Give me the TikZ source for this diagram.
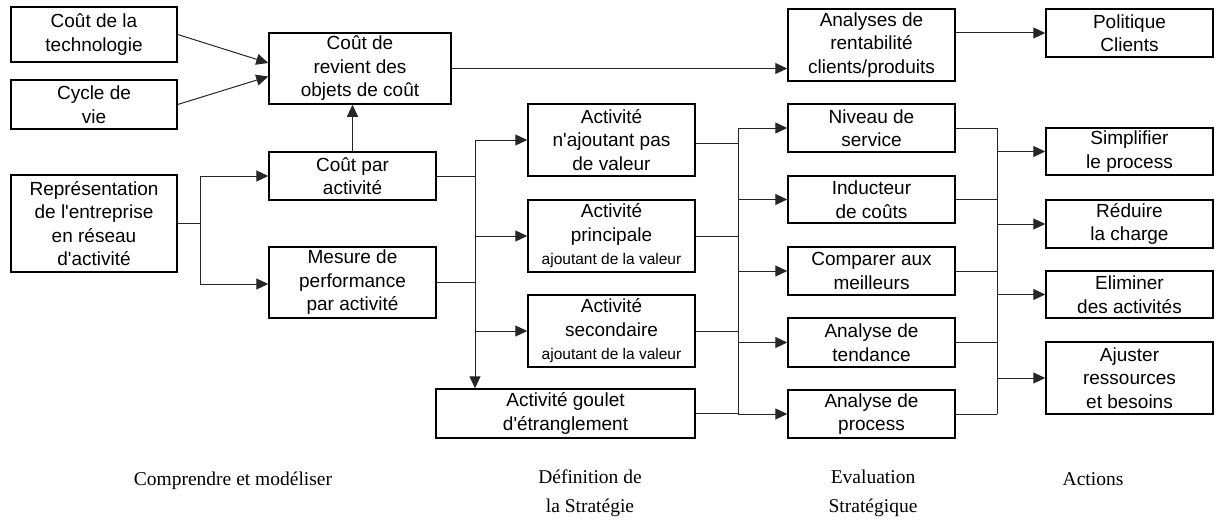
\documentclass[tikz,border=0pt]{standalone}
\usepackage{fontspec}
\setmainfont{Liberation Serif}
\setsansfont{Liberation Sans}[Ligatures=TeXOff]
\usetikzlibrary{arrows.meta}
\begin{document}
\begin{tikzpicture}[x=1pt,y=-1pt,
 box/.style={draw,line width=1.5pt,inner sep=0pt,align=center,font=\sffamily\fontsize{19}{23.5}\selectfont},
 conn/.style={line width=1pt,draw=black!85},
 arr/.style={conn,-{Triangle[length=12pt,width=11pt]}},
 lab/.style={font=\rmfamily\fontsize{19.5}{28.5}\selectfont,align=center,inner sep=0pt}]
\useasboundingbox (0,0) rectangle (1217,519);
% column 1
\node[box,minimum width=166pt,minimum height=55pt] (tech) at (94,34.5) {Coût de la\\technologie};
\node[box,minimum width=166pt,minimum height=49pt] (cycle) at (94,104.5) {Cycle de\\vie};
\node[box,minimum width=166pt,minimum height=97pt] (repr) at (94,223.5) {Représentation\\de l'entreprise\\en réseau\\d'activité};
% column 2
\node[box,minimum width=182pt,minimum height=71pt] (revient) at (360,68.5) {Coût de\\revient des\\objets de coût};
\node[box,minimum width=167pt,minimum height=48pt] (coutpar) at (352.5,176) {Coût par\\activité};
\node[box,minimum width=167pt,minimum height=71pt] (mesure) at (352.5,282.5) {Mesure de\\performance\\par activité};
% column 3
\node[box,minimum width=167pt,minimum height=72pt] (nva) at (611.5,140) {Activité\\n'ajoutant pas\\de valeur};
\node[box,minimum width=167pt,minimum height=72pt] (princ) at (611.5,236) {Activité\\principale\\{\fontsize{15.5}{18}\selectfont ajoutant de la valeur}};
\node[box,minimum width=167pt,minimum height=72pt] (second) at (611.5,331) {Activité\\secondaire\\{\fontsize{15.5}{18}\selectfont ajoutant de la valeur}};
\node[box,minimum width=259pt,minimum height=49pt] (goulet) at (565.5,413.5) {Activité goulet\\d'étranglement};
% column 4
\node[box,minimum width=167pt,minimum height=72pt] (analyses) at (871.5,45) {Analyses de\\rentabilité\\clients/produits};
\node[box,minimum width=167pt,minimum height=48pt] (niveau) at (871.5,128) {Niveau de\\service};
\node[box,minimum width=167pt,minimum height=47pt] (induct) at (871.5,199.5) {Inducteur\\de coûts};
\node[box,minimum width=167pt,minimum height=48pt] (compar) at (871.5,271) {Comparer aux\\meilleurs};
\node[box,minimum width=167pt,minimum height=49pt] (tendance) at (871.5,342.5) {Analyse de\\tendance};
\node[box,minimum width=167pt,minimum height=48pt] (process) at (871.5,414) {Analyse de\\process};
% column 5
\node[box,minimum width=167pt,minimum height=48pt] (politique) at (1129.5,33) {Politique\\Clients};
\node[box,minimum width=167pt,minimum height=47pt] (simpl) at (1129.5,151.5) {Simplifier\\le process};
\node[box,minimum width=167pt,minimum height=48pt] (reduire) at (1129.5,224) {Réduire\\la charge};
\node[box,minimum width=167pt,minimum height=47pt] (elim) at (1129.5,294.5) {Eliminer\\des activités};
\node[box,minimum width=167pt,minimum height=72pt] (ajust) at (1129.5,378) {Ajuster\\ressources\\et besoins};
% bottom labels
\node[lab,anchor=base] (l1) at (233,485) {Comprendre et modéliser};
\node[lab,anchor=north] (l2) at (590,470) {Définition de\\la Stratégie};
\node[lab,anchor=north] (l3) at (873,470) {Evaluation\\Stratégique};
\node[lab,anchor=base] (l4) at (1093,485) {Actions};
% connectors
\draw[arr] (tech.east) -- ([yshift=5.5pt]revient.west);
\draw[arr] (cycle.east) -- ([yshift=-8pt]revient.west);
\draw[arr] (coutpar.north) -- (coutpar.north |- revient.south);
\draw[arr] (revient.east) -- (revient.east -| analyses.west);
\draw[arr] (analyses.east |- politique.west) -- (politique.west);
\coordinate (j1) at (200,223.5);
\draw[conn] (repr.east) -- (j1);
\draw[arr] (j1) |- (coutpar.west);
\draw[arr] (j1) |- ([yshift=-1.5pt]mesure.west);
\coordinate (v2) at (475,176);
\draw[conn] (coutpar.east) -- (v2);
\draw[conn] (mesure.east) -- (mesure.east -| v2);
\draw[arr] (v2 |- nva.west) -- (v2 |- goulet.north);
\draw[arr] (v2 |- nva.west) -- (nva.west);
\draw[arr] (v2 |- princ.west) -- (princ.west);
\draw[arr] (v2 |- second.west) -- (second.west);
\coordinate (v3) at (738,0);
\draw[conn] ([yshift=-3pt]nva.east) -- ([yshift=-3pt]nva.east -| v3);
\draw[conn] (princ.east) -- (princ.east -| v3);
\draw[conn] (second.east) -- (second.east -| v3);
\draw[conn] (goulet.east) -- (goulet.east -| v3);
\draw[conn] (v3 |- niveau.west) -- (v3 |- goulet.east);
\draw[arr] (v3 |- niveau.west) -- (niveau.west);
\draw[arr] (v3 |- induct.west) -- (induct.west);
\draw[arr] (v3 |- compar.west) -- (compar.west);
\draw[arr] (v3 |- tendance.west) -- (tendance.west);
\draw[arr] (v3 |- process.west) -- (process.west);
\coordinate (v4) at (997,0);
\draw[conn] (niveau.east) -- (niveau.east -| v4);
\draw[conn] (induct.east) -- (induct.east -| v4);
\draw[conn] (compar.east) -- (compar.east -| v4);
\draw[conn] (tendance.east) -- (tendance.east -| v4);
\draw[conn] (process.east) -- (process.east -| v4);
\draw[conn] (v4 |- niveau.east) -- (v4 |- process.east);
\draw[arr] (v4 |- simpl.west) -- (simpl.west);
\draw[arr] (v4 |- reduire.west) -- (reduire.west);
\draw[arr] (v4 |- elim.west) -- (elim.west);
\draw[arr] (v4 |- ajust.west) -- (ajust.west);
\end{tikzpicture}
\end{document}
